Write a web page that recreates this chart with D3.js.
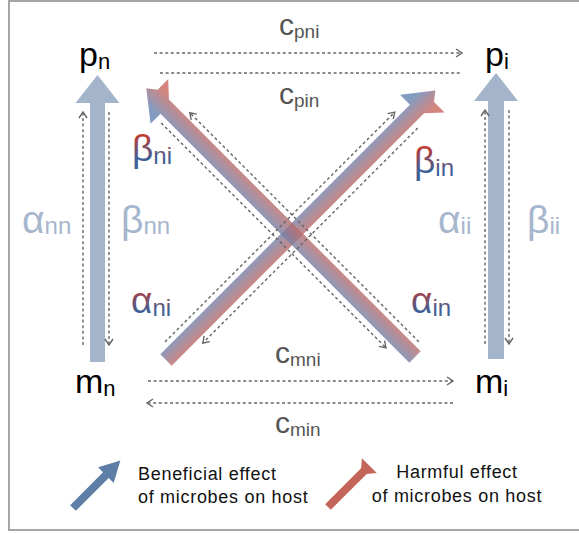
<!DOCTYPE html>
<html><head><meta charset="utf-8">
<script src="https://cdn.jsdelivr.net/npm/d3@7"></script>
<style>html,body{margin:0;padding:0;background:#fff;} svg{display:block;}</style>
</head><body>
<svg id="c" width="579" height="533"></svg>
<script>
// ---------------- DATA ----------------
const species = ["n", "i"];
const nodeLabels = [["p", "n"], ["p", "i"], ["m", "n"], ["m", "i"]];
const selfLabels = [["α", "nn"], ["β", "nn"], ["α", "ii"], ["β", "ii"]];
const crossLabels = [["β", "ni"], ["β", "in"], ["α", "ni"], ["α", "in"]];
const transferLabels = [["c", "pni"], ["c", "pin"], ["c", "mni"], ["c", "min"]];
const legendBeneficial = ["Beneficial effect", "of microbes on host"];
const legendHarmful = ["Harmful effect", "of microbes on host"];

// ---------------- LAYOUT ----------------
const svg = d3.select("#c");
const defs = svg.append("defs");
const FONT = "'Liberation Sans', Arial, Helvetica, sans-serif";
const colX = d3.scaleLinear().domain([0, 1]).range([97.5, 496]);
const BLUE = "#6683b2", RED = "#c9665d", PALE = "#a3b4cb", DOT = "#666";

svg.append("rect").attr("x", 9).attr("y", 1).attr("width", 580).attr("height", 529)
  .attr("fill", "none").attr("stroke", "#a6a6a6").attr("stroke-width", 2);

function pt(S, d, a, p) { const nl = [d[1], -d[0]]; return [S[0] + a * d[0] + p * nl[0], S[1] + a * d[1] + p * nl[1]]; }
function poly(S, d, pts) { return "M" + pts.map(q => pt(S, d, q[0], q[1]).join(",")).join("L") + "Z"; }
function benefPts(L, h, hl, hw) { return [[0, h], [L - hl, h], [L - hl, hw], [L, 0], [L - hl, -hw], [L - hl, -h], [0, -h]]; }
function harmPts(L, h, hl, hw) { const a = L - hl + hl * h / hw; return [[0, h], [a, h], [L, hw], [L, -hw], [a, -h], [0, -h]]; }
function mixedPts(L, h) { return [[0, h], [L - 28, h], [L - 28, 22], [L, 0], [L - 9, -7], [L - 9, -22], [L - 24, -h], [0, -h]]; }

// dotted line with optional open arrowhead at the end
function dotted(x1, y1, x2, y2, arrow) {
  svg.append("line").attr("x1", x1).attr("y1", y1).attr("x2", x2).attr("y2", y2)
    .attr("stroke", DOT).attr("stroke-width", 1.4).attr("stroke-dasharray", "3,2.6");
  if (arrow) {
    const len = Math.hypot(x2 - x1, y2 - y1), ux = (x2 - x1) / len, uy = (y2 - y1) / len;
    const bx = x2 - 6 * ux, by = y2 - 6 * uy;
    svg.append("path").attr("d", `M${bx - 4 * uy},${by + 4 * ux}L${x2},${y2}L${bx + 4 * uy},${by - 4 * ux}`)
      .attr("fill", "none").attr("stroke", DOT).attr("stroke-width", 1.4);
  }
}
function dottedLocal(S, d, a1, a2, p, arrow) {
  const A = pt(S, d, a1, p), B = pt(S, d, a2, p);
  dotted(A[0], A[1], B[0], B[1], arrow);
}

// ---- vertical (self) arrows ----
const vert = [
  { S: [colX(0), 362], L: 287, h: 7.5, dl: -14.5, dr: 11.5, y1: 345, y2: 112 },
  { S: [colX(1), 359], L: 286, h: 8, dl: -11, dr: 13, y1: 344, y2: 110 }
];
vert.forEach(v => {
  svg.append("path").attr("d", poly(v.S, [0, -1], benefPts(v.L, v.h, 28, 22))).attr("fill", PALE);
  dotted(v.S[0] + v.dl, v.y1, v.S[0] + v.dl, v.y2, true);
  dotted(v.S[0] + v.dr, v.y2, v.S[0] + v.dr, v.y1, true);
});

// ---- horizontal transfer dashed arrows ----
dotted(154, 53, 462, 53, true);
dotted(160, 73, 462, 73, false);
dotted(148, 381, 453, 381, true);
dotted(453, 403, 147, 403, true);

// ---- diagonal (cross) arrows ----
const r2 = Math.SQRT1_2;
const diag = [
  { S: [166, 360], d: [r2, -r2], L: 381, dots: [[12, 337, 13.5, true], [342, 38, -14, true]] },
  { S: [415, 357], d: [-r2, -r2], L: 380, dots: [[8, 332, -13.5, true], [345, 27, 14, true]] }
];
diag.forEach((g, k) => {
  const nl = [g.d[1], -g.d[0]];
  const gid = "dg" + k;
  const G = defs.append("linearGradient").attr("id", gid).attr("gradientUnits", "userSpaceOnUse")
    .attr("x1", g.S[0] + 11 * nl[0]).attr("y1", g.S[1] + 11 * nl[1])
    .attr("x2", g.S[0] - 11 * nl[0]).attr("y2", g.S[1] - 11 * nl[1]);
  G.append("stop").attr("offset", 0).attr("stop-color", BLUE);
  G.append("stop").attr("offset", 1).attr("stop-color", RED);
  svg.append("path").attr("d", poly(g.S, g.d, mixedPts(g.L, 8)))
    .attr("fill", `url(#${gid})`).attr("fill-opacity", 0.8);
});
diag.forEach(g => g.dots.forEach(q => dottedLocal(g.S, g.d, q[0], q[1], q[2], q[3])));

// ---- labels ----
function subText(x, y, lab, size, subSize, subDy, fill, anchor) {
  const t = svg.append("text").attr("x", x).attr("y", y).attr("font-family", FONT)
    .attr("fill", fill).attr("text-anchor", anchor || "start");
  t.append("tspan").attr("font-size", size).text(lab[0]);
  t.append("tspan").attr("font-size", subSize).attr("dy", subDy).text(lab[1]);
  return t;
}
// nodes
const nodePos = [[79, 66], [485, 66], [75, 393], [475, 393]];
nodeLabels.forEach((l, i) => subText(nodePos[i][0], nodePos[i][1], l, 34, 22, 3, "#000"));
// self effects
const selfPos = [[22, 233], [121, 233], [438, 233], [527, 233]];
selfLabels.forEach((l, i) => subText(selfPos[i][0], selfPos[i][1], l, 39, 24, 1, "#a6b6ce"));
// cross effects (gradient text)
const tg = defs.append("linearGradient").attr("id", "tg").attr("x1", 0).attr("y1", 0).attr("x2", 0).attr("y2", 1);
tg.append("stop").attr("offset", 0.15).attr("stop-color", "#c63a2e");
tg.append("stop").attr("offset", 0.75).attr("stop-color", "#3f5f96");
const crossPos = [[132, 161], [414, 173], [131, 313], [411, 313]];
crossLabels.forEach((l, i) => subText(crossPos[i][0], crossPos[i][1], l, 37, 24, 3, "url(#tg)"));
// transfers
const trPos = [[279, 35], [279, 104], [275, 363], [275, 433]];
transferLabels.forEach((l, i) => subText(trPos[i][0], trPos[i][1], l, 30, 19, 3, "#555"));

// ---- legend ----
svg.append("path").attr("d", poly([73, 508], [r2, -r2], benefPts(67, 4, 20.5, 11))).attr("fill", "#5e7ea6");
svg.append("path").attr("d", poly([328, 507], [r2, -r2], harmPts(58.5, 4, 12.5, 10.5))).attr("fill", "#c4655a");
const lt = (x, y, s, anchor) => svg.append("text").attr("x", x).attr("y", y).attr("font-family", FONT)
  .attr("font-size", 18).attr("letter-spacing", 0.7).attr("fill", "#111").attr("text-anchor", anchor).text(s);
lt(138, 480, legendBeneficial[0], "start");
lt(138, 503, legendBeneficial[1], "start");
lt(457, 478, legendHarmful[0], "middle");
lt(457, 502, legendHarmful[1], "middle");
</script>
</body></html>
